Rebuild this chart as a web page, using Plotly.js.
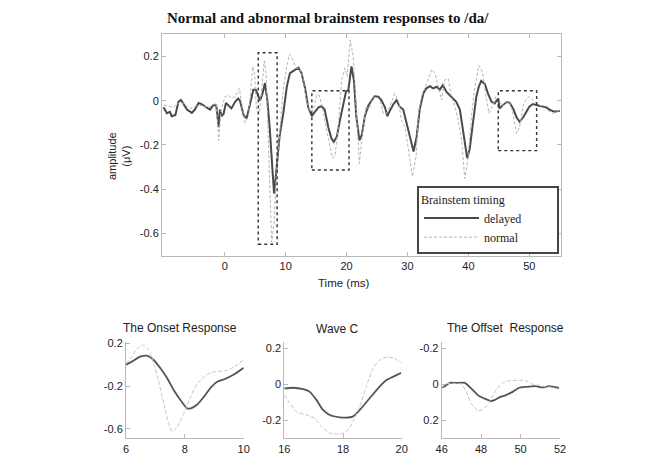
<!DOCTYPE html>
<html>
<head>
<meta charset="utf-8">
<script src="https://cdn.plot.ly/plotly-3.0.1.min.js"></script>
<style>html,body{margin:0;padding:0;background:#fff}#chart{width:663px;height:469px}</style>
</head>
<body>
<div id="chart"></div>
<script>
// ---- main panel data (time in ms, amplitude in µV) ----
const delayedT = [-10.05,-9.5,-9,-8.7,-8.1,-7.6,-7.2,-6.8,-6.2,-5.4,-4.9,-4.3,-3.8,-3.2,-2.4,-1.9,-1.4,-1.0,-0.8,-0.5,-0.2,0.2,0.6,1.1,1.7,2.2,2.5,3.1,3.6,4.2,4.7,5.1,5.8,6.2,6.6,7.0,7.4,7.9,8.1,8.5,9.0,9.6,10.2,10.7,11.8,12.1,12.6,13.2,13.7,14.3,14.8,15.4,15.9,16.4,17.0,17.5,17.9,18.4,18.9,19.5,19.9,20.3,20.8,21.2,21.6,22.1,22.5,23.0,23.6,24.1,24.6,25.2,25.7,26.3,26.7,27.1,27.7,28.2,28.7,29.3,29.8,30.4,31.0,31.5,32.0,32.6,33.1,33.7,34.2,34.8,35.3,35.8,36.4,36.9,37.5,38.0,38.6,39.1,39.8,40.2,40.8,41.3,41.7,42.1,42.7,43.2,43.8,44.3,44.9,45.1,45.7,46.3,46.8,47.4,47.9,48.4,49.0,49.5,50.0,50.6,51.1,51.9,52.8,53.3,54.1,55.0];
const delayedV = [-0.03,-0.057,-0.05,-0.07,-0.065,-0.005,0.003,-0.015,-0.04,-0.055,-0.04,-0.01,-0.015,-0.027,-0.04,-0.02,-0.02,-0.12,-0.04,-0.07,-0.06,-0.01,-0.02,-0.035,-0.005,0.01,0.0,-0.065,-0.08,-0.005,0.05,0.05,0.0,0.033,0.08,0.0,-0.13,-0.34,-0.42,-0.31,-0.16,-0.06,0.065,0.125,0.147,0.15,0.125,0.055,-0.03,-0.07,-0.05,-0.03,-0.025,-0.04,-0.12,-0.17,-0.186,-0.163,-0.09,-0.005,0.04,0.05,0.155,0.094,-0.07,-0.18,-0.155,-0.07,-0.02,0.0,0.02,0.018,0.003,-0.03,-0.07,-0.045,-0.015,0.003,-0.027,-0.04,-0.1,-0.17,-0.23,-0.163,-0.04,0.033,0.056,0.066,0.056,0.063,0.05,0.07,0.04,0.026,0.01,-0.005,-0.04,-0.13,-0.26,-0.22,-0.09,0.018,0.063,0.09,0.075,0.033,-0.005,-0.012,0.01,-0.035,-0.02,-0.005,-0.01,-0.04,-0.075,-0.095,-0.075,-0.05,-0.027,-0.015,-0.02,-0.025,-0.03,-0.04,-0.05,-0.045];
const normalT = [-10,-8.4,-7.3,-5.7,-4.2,-2.6,-1.4,-1.0,-0.6,0.05,0.6,1.1,1.7,2.4,2.8,3.3,3.9,4.3,4.6,4.9,5.2,5.7,6.1,6.5,6.8,7.1,7.4,7.7,8.1,8.5,9.1,9.6,10.2,10.6,11.1,11.8,12.3,12.9,13.4,14.0,14.5,15.1,15.5,16.1,16.7,17.3,17.7,18.1,18.6,19.2,19.7,20.1,20.6,21.1,21.5,22.1,22.6,23.2,23.7,24.3,24.9,25.5,26.0,26.6,27.1,27.9,28.5,29.0,29.6,30.1,30.8,31.4,31.8,32.3,32.8,33.4,34.0,34.5,35.0,35.6,36.1,36.7,37.2,37.8,38.3,38.9,39.4,39.9,40.5,41.0,41.7,42.3,42.8,43.4,43.9,44.5,45.0,45.6,46.2,46.8,47.3,47.9,48.4,49.0,49.5,50.0,50.9,51.7,52.8,53.8,55.0];
const normalV = [-0.02,-0.03,-0.005,-0.035,-0.02,-0.03,-0.01,-0.18,-0.04,0.018,0.025,0.01,0.018,0.056,-0.02,-0.1,-0.07,0.08,0.155,0.124,-0.04,-0.057,0.05,0.18,0.12,-0.15,-0.45,-0.64,-0.556,-0.31,-0.12,0.05,0.155,0.21,0.19,0.147,0.147,0.094,0.0,-0.05,-0.042,0.026,0.026,-0.04,-0.13,-0.216,-0.26,-0.25,-0.13,0.094,0.147,0.11,0.275,0.2,-0.012,-0.284,-0.148,-0.027,-0.042,0.01,0.018,0.003,-0.057,-0.057,-0.027,0.033,0.0,-0.088,-0.118,-0.21,-0.344,-0.254,-0.057,0.018,0.056,0.094,0.142,0.124,0.063,0.003,0.094,0.1,0.018,-0.027,-0.088,-0.18,-0.352,-0.27,-0.07,0.048,0.16,0.13,0.033,-0.057,-0.027,0.018,0.003,-0.027,-0.005,-0.005,-0.057,-0.148,-0.118,-0.02,0.01,0.018,-0.005,-0.02,-0.042,-0.057,-0.042];

// dotted windows on the main panel: [t0, t1, v0, v1]
const windowT0 = [5.5, 14.3, 44.9];
const windowT1 = [8.6, 20.4, 51.2];
const windowV0 = [-0.65, -0.314, -0.226];
const windowV1 = [0.217, 0.045, 0.045];

// ---- inset panels ----
const onsetT = [6.0,6.2,6.48,6.71,6.94,7.17,7.4,7.62,7.85,8.08,8.2,8.43,8.65,8.88,9.1,9.34,9.68,10.0];
const onsetDelayed = [0.0,0.028,0.075,0.084,0.044,-0.034,-0.128,-0.237,-0.331,-0.41,-0.41,-0.371,-0.3,-0.216,-0.16,-0.137,-0.09,-0.03];
const onsetTn = [6.0,6.2,6.42,6.57,6.77,6.94,7.11,7.28,7.45,7.57,7.74,7.97,8.2,8.43,8.72,9.0,9.34,9.68,10.0];
const onsetNormal = [0.01,0.075,0.162,0.184,0.137,0.013,-0.16,-0.362,-0.55,-0.628,-0.58,-0.456,-0.3,-0.175,-0.097,-0.066,-0.06,-0.019,0.045];

const waveCT = [16.0,16.3,16.64,16.87,17.1,17.32,17.55,17.89,18.1,18.33,18.57,18.9,19.24,19.47,19.7,19.98];
const waveCDelayed = [-0.024,-0.02,-0.028,-0.043,-0.089,-0.144,-0.172,-0.185,-0.187,-0.181,-0.144,-0.08,-0.015,0.022,0.041,0.063];
const waveCTn = [16.0,16.19,16.42,16.76,17.04,17.27,17.55,17.89,18.12,18.34,18.57,18.79,19.02,19.24,19.53,19.75,19.98];
const waveCNormal = [-0.061,-0.107,-0.154,-0.172,-0.191,-0.237,-0.274,-0.278,-0.265,-0.209,-0.126,-0.015,0.087,0.133,0.152,0.143,0.118];

const offsetT = [46.0,46.17,46.4,46.75,47.17,47.5,47.83,48.17,48.5,48.67,48.92,49.26,49.6,49.93,50.27,50.78,51.1,51.44,51.95];
const offsetDelayed = [0.018,0.011,-0.007,-0.007,-0.007,0.024,0.061,0.08,0.094,0.089,0.074,0.061,0.043,0.02,0.015,0.011,0.018,0.011,0.02];
const offsetTn = [46.0,46.25,46.75,47.0,47.25,47.5,47.83,48.08,48.42,48.75,49.08,49.42,49.93,50.27,50.6,51.1,51.6,51.95];
const offsetNormal = [0.02,-0.003,-0.004,0.0,0.043,0.107,0.148,0.141,0.098,0.033,-0.007,-0.018,-0.022,-0.018,0.0,0.011,0.018,0.03];

// ---- tick labels ----
const mainXTicks = [0,10,20,30,40,50];
const mainYTicks = [-0.6,-0.4,-0.2,0,0.2];
const mainYLabels = ['-0.6','-0.4','-0.2','0','0.2'];
const onsetXTicks = [6,8,10];
const onsetYTicks = [-0.6,-0.2,0.2];
const onsetYLabels = ['-0.6','-0.2','0.2'];
const waveCXTicks = [16,18,20];
const waveCYTicks = [-0.2,0,0.2];
const waveCYLabels = ['-0.2','0','0.2'];
const offsetXTicks = [46,48,50,52];
const offsetYTicks = [-0.2,0,0.2];
const offsetYLabels = ['-0.2','0','0.2'];

const W = 663, H = 469;
const px = v => v / W;
const py = v => 1 - v / H;

const SANS = 'Liberation Sans, Arial, sans-serif';
const SERIF = 'Liberation Serif, Times New Roman, serif';
const DARK = '#4a4a4a', LIGHT = '#b4b4b4';
const PAD = '\u00a0'.repeat(10);

const traces = [
  {x: delayedT, y: delayedV, xaxis:'x', yaxis:'y', mode:'lines', name:'delayed' + PAD,
   line:{color:DARK, width:2}},
  {x: normalT, y: normalV, xaxis:'x', yaxis:'y', mode:'lines', name:'normal' + PAD,
   line:{color:LIGHT, width:1, dash:'3px,2px'}},
  {x: onsetT, y: onsetDelayed, xaxis:'x2', yaxis:'y2', mode:'lines', showlegend:false,
   line:{color:'#555', width:1.8, shape:'spline', smoothing:0.6}},
  {x: onsetTn, y: onsetNormal, xaxis:'x2', yaxis:'y2', mode:'lines', showlegend:false,
   line:{color:'#c4c4c4', width:1, dash:'4px,2px', shape:'spline', smoothing:0.6}},
  {x: waveCT, y: waveCDelayed, xaxis:'x3', yaxis:'y3', mode:'lines', showlegend:false,
   line:{color:'#555', width:1.8, shape:'spline', smoothing:0.6}},
  {x: waveCTn, y: waveCNormal, xaxis:'x3', yaxis:'y3', mode:'lines', showlegend:false,
   line:{color:'#c4c4c4', width:1, dash:'4px,2px', shape:'spline', smoothing:0.6}},
  {x: offsetT, y: offsetDelayed, xaxis:'x4', yaxis:'y4', mode:'lines', showlegend:false,
   line:{color:'#555', width:1.8, shape:'spline', smoothing:0.6}},
  {x: offsetTn, y: offsetNormal, xaxis:'x4', yaxis:'y4', mode:'lines', showlegend:false,
   line:{color:'#c4c4c4', width:1, dash:'4px,2px', shape:'spline', smoothing:0.6}}
];

const tickFont = {family:SANS, size:11, color:'#222'};
function ax(extra){
  return Object.assign({showline:true, linecolor:'#b8b8b8', linewidth:1, ticks:'inside', ticklen:4,
    tickcolor:'#b8b8b8', showgrid:false, zeroline:false, tickfont:tickFont, tickmode:'array', fixedrange:true}, extra);
}

const shapes = windowT0.map((t0,i) => ({
  type:'rect', xref:'x', yref:'y', x0:t0, x1:windowT1[i], y0:windowV0[i], y1:windowV1[i],
  line:{color:'#333', width:1.4, dash:'dot'}
}));

const annotations = [
  {text:'<b>Normal and abnormal brainstem responses to /da/</b>', xref:'paper', yref:'paper',
   x:px(328), y:py(18), xanchor:'center', yanchor:'middle', showarrow:false,
   font:{family:SERIF, size:15, color:'#111'}},
  {text:'amplitude<br>(μV)', xref:'paper', yref:'paper', x:px(119), y:py(156), textangle:-90,
   xanchor:'center', yanchor:'middle', showarrow:false, font:{family:SANS, size:11, color:'#222'}},
  {text:'Time (ms)', xref:'paper', yref:'paper', x:px(343), y:py(283),
   xanchor:'center', yanchor:'middle', showarrow:false, font:{family:SANS, size:11.5, color:'#222'}},
  {text:'The Onset Response', xref:'paper', yref:'paper', x:px(180), y:py(328),
   xanchor:'center', yanchor:'middle', showarrow:false, font:{family:SANS, size:12, color:'#222'}},
  {text:'Wave C', xref:'paper', yref:'paper', x:px(337), y:py(329),
   xanchor:'center', yanchor:'middle', showarrow:false, font:{family:SANS, size:12, color:'#222'}},
  {text:'The Offset\u00a0 Response', xref:'paper', yref:'paper', x:px(505), y:py(328),
   xanchor:'center', yanchor:'middle', showarrow:false, font:{family:SANS, size:12, color:'#222'}}
];

const layout = {
  width:W, height:H, margin:{l:0, r:0, t:0, b:0},
  paper_bgcolor:'#fff', plot_bgcolor:'#fff',
  showlegend:true,
  legend:{x:px(417), y:py(186), xanchor:'left', yanchor:'top', bgcolor:'#fff',
    bordercolor:'#444', borderwidth:2, itemwidth:55,
    font:{family:SERIF, size:12, color:'#222'},
    title:{text:'Brainstem timing', font:{family:SERIF, size:12, color:'#222'}}},
  xaxis: ax({domain:[px(162), px(561)], range:[-10.3, 55.2], mirror:'ticks', tickvals:mainXTicks, anchor:'y'}),
  yaxis: ax({domain:[py(256), py(34)], range:[-0.703, 0.302], mirror:'ticks', tickvals:mainYTicks, ticktext:mainYLabels, anchor:'x'}),
  xaxis2: ax({domain:[px(126), px(243.7)], range:[6,10], tickvals:onsetXTicks, anchor:'y2'}),
  yaxis2: ax({domain:[py(438.3), py(341.7)], range:[-0.69, 0.215], tickvals:onsetYTicks, ticktext:onsetYLabels, anchor:'x2'}),
  xaxis3: ax({domain:[px(284.3), px(401.7)], range:[16,20], tickvals:waveCXTicks, anchor:'y3'}),
  yaxis3: ax({domain:[py(438.3), py(341.7)], range:[-0.302, 0.237], tickvals:waveCYTicks, ticktext:waveCYLabels, anchor:'x3'}),
  xaxis4: ax({domain:[px(441.7), px(560)], range:[46,52], tickvals:offsetXTicks, anchor:'y4'}),
  yaxis4: ax({domain:[py(438.3), py(341.7)], range:[0.302, -0.237], tickvals:offsetYTicks, ticktext:offsetYLabels, anchor:'x4'}),
  shapes: shapes,
  annotations: annotations
};

Plotly.newPlot('chart', traces, layout, {displayModeBar:false, staticPlot:true});
</script>
</body>
</html>
